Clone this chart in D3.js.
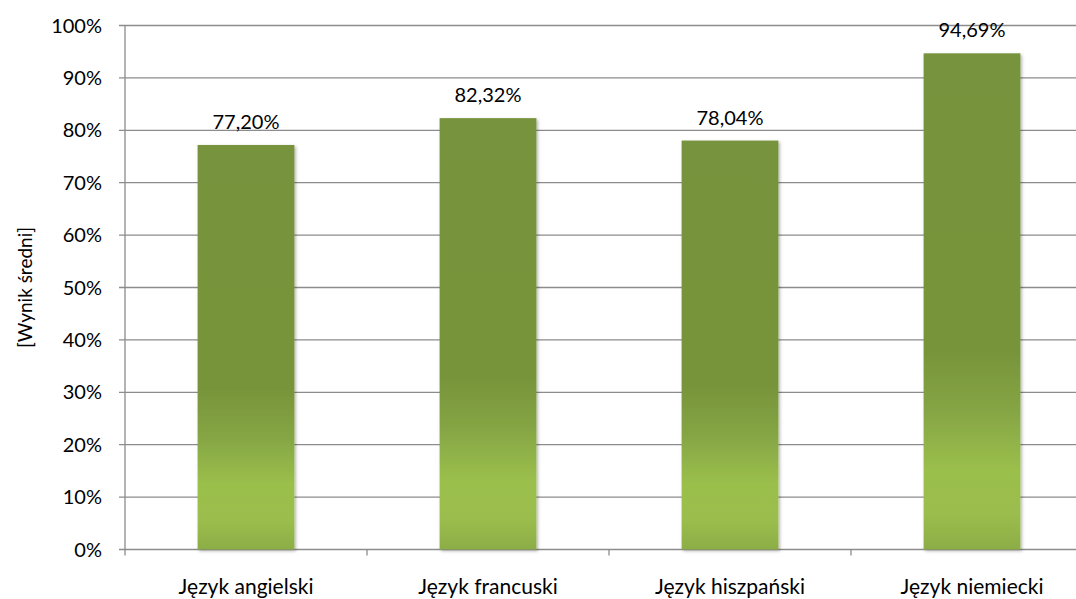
<!DOCTYPE html>
<html lang="pl">
<head>
<meta charset="UTF-8">
<title>Wynik średni</title>
<script src="https://cdn.jsdelivr.net/npm/d3@7"></script>
<style>
  body { margin: 0; background: #fff; }
  text { font-family: Lato, "Open Sans", sans-serif; fill: #000; }
</style>
</head>
<body>
<div id="chart"></div>
<script>
// data
const categories = ["Język angielski", "Język francuski", "Język hiszpański", "Język niemiecki"];
const values = [77.20, 82.32, 78.04, 94.69];
const valueLabels = ["77,20%", "82,32%", "78,04%", "94,69%"];
const yTicks = [0, 10, 20, 30, 40, 50, 60, 70, 80, 90, 100];

const width = 1076, height = 599;
const plotLeft = 125, plotRight = 1093, plotTop = 25.5, plotBottom = 549.5;

const svg = d3.select("#chart").append("svg")
    .attr("width", width)
    .attr("height", height);

const defs = svg.append("defs");
const grad = defs.append("linearGradient")
    .attr("id", "barFill")
    .attr("x1", 0).attr("y1", 0).attr("x2", 0).attr("y2", 1);
[["0%", "#77933c"], ["60%", "#77943a"], ["72%", "#85a544"], ["84%", "#9bbf4c"], ["93%", "#9bbd4d"], ["100%", "#8cad45"]]
    .forEach(s => grad.append("stop").attr("offset", s[0]).attr("stop-color", s[1]));

const shadow = defs.append("filter").attr("id", "shadow")
    .attr("x", "-10%").attr("y", "-5%").attr("width", "130%").attr("height", "115%");
shadow.append("feDropShadow").attr("dx", 1.5).attr("dy", 1.5).attr("stdDeviation", 1.5)
    .attr("flood-color", "#000").attr("flood-opacity", 0.3);

const x = d3.scaleBand().domain(categories).range([plotLeft, plotRight]).paddingInner(0.6).paddingOuter(0.3);
const y = d3.scaleLinear().domain([0, 100]).range([plotBottom, plotTop]);

// gridlines
svg.append("g")
    .selectAll("line")
    .data(yTicks)
    .enter().append("line")
    .attr("x1", plotLeft - 6)
    .attr("x2", plotRight)
    .attr("y1", d => y(d))
    .attr("y2", d => y(d))
    .attr("stroke", "#8c8c8c")
    .attr("stroke-width", 1.3);

// y axis line
svg.append("line")
    .attr("x1", plotLeft).attr("x2", plotLeft)
    .attr("y1", plotTop).attr("y2", plotBottom)
    .attr("stroke", "#8c8c8c").attr("stroke-width", 1.3);

// category tick marks on the base line
const band = (plotRight - plotLeft) / categories.length;
svg.append("g")
    .selectAll("line")
    .data(d3.range(categories.length + 1))
    .enter().append("line")
    .attr("x1", i => plotLeft + i * band)
    .attr("x2", i => plotLeft + i * band)
    .attr("y1", plotBottom)
    .attr("y2", plotBottom + 6)
    .attr("stroke", "#8c8c8c")
    .attr("stroke-width", 1.3);

// y tick labels
svg.append("g")
    .selectAll("text")
    .data(yTicks)
    .enter().append("text")
    .attr("x", 102)
    .attr("y", d => y(d) + 7)
    .attr("text-anchor", "end")
    .attr("font-size", 20)
    .text(d => d + "%");

// bars
svg.append("g")
    .selectAll("rect")
    .data(values)
    .enter().append("rect")
    .attr("x", (d, i) => x(categories[i]))
    .attr("width", x.bandwidth())
    .attr("y", d => y(d))
    .attr("height", d => y(0) - y(d))
    .attr("fill", "url(#barFill)")
    .attr("filter", "url(#shadow)");

// value labels
svg.append("g")
    .selectAll("text")
    .data(values)
    .enter().append("text")
    .attr("x", (d, i) => x(categories[i]) + x.bandwidth() / 2)
    .attr("y", d => y(d) - 16)
    .attr("text-anchor", "middle")
    .attr("font-size", 20)
    .text((d, i) => valueLabels[i]);

// category labels
svg.append("g")
    .selectAll("text")
    .data(categories)
    .enter().append("text")
    .attr("x", d => x(d) + x.bandwidth() / 2)
    .attr("y", 594)
    .attr("text-anchor", "middle")
    .attr("font-size", 21)
    .text(d => d);

// y axis title
svg.append("text")
    .attr("transform", "translate(32," + ((plotTop + plotBottom) / 2) + ") rotate(-90)")
    .attr("text-anchor", "middle")
    .attr("font-size", 19)
    .text("[Wynik średni]");
</script>
</body>
</html>
